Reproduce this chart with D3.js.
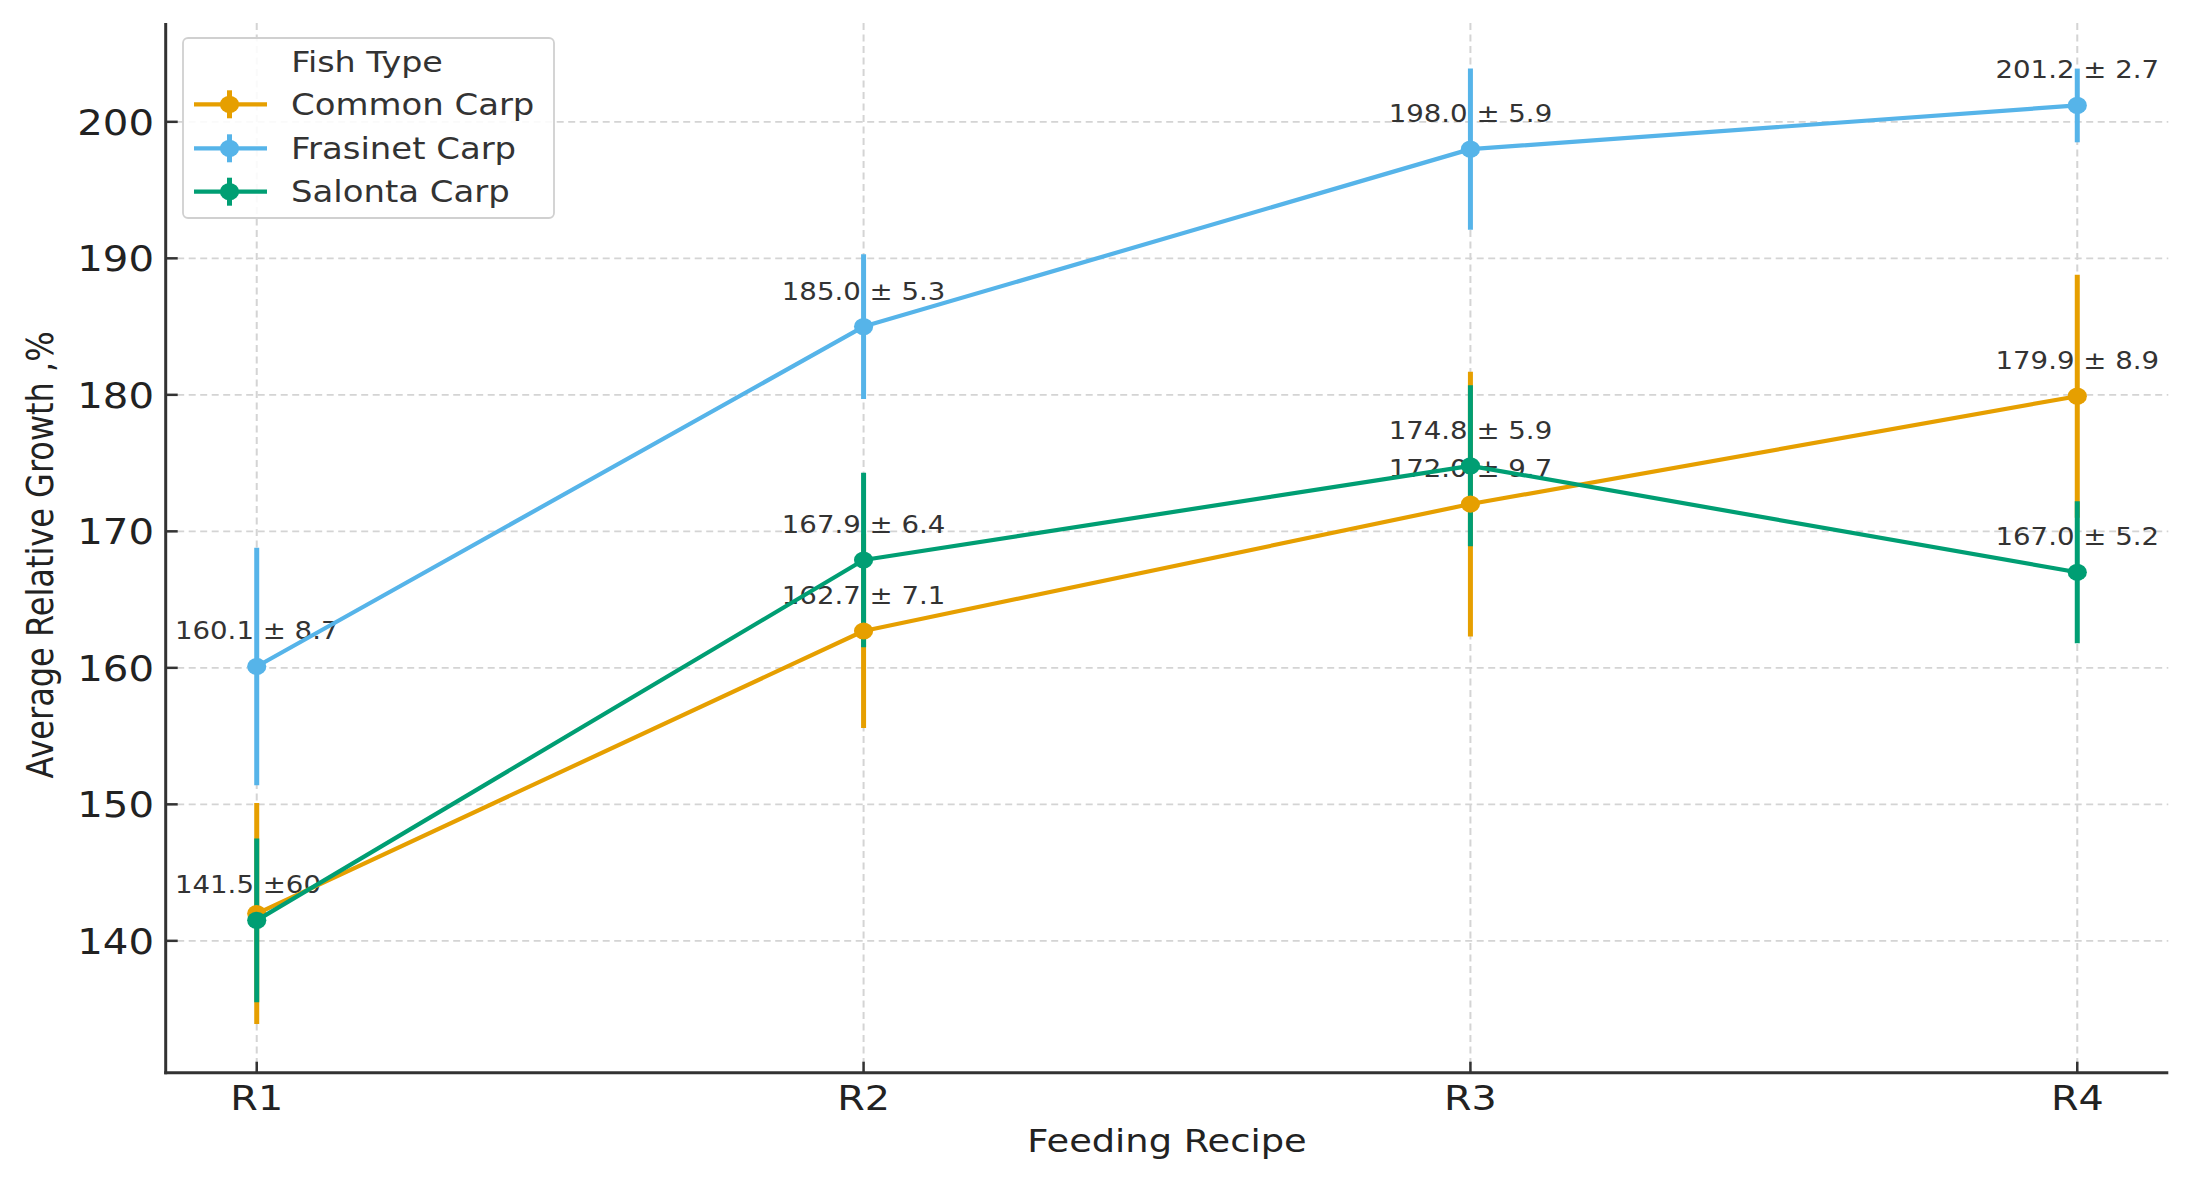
<!DOCTYPE html>
<html>
<head>
<meta charset="utf-8">
<script src="https://cdn.jsdelivr.net/npm/d3@7"></script>
<style>
  html, body { margin: 0; padding: 0; background: #ffffff; }
  svg { display: block; }
  text { font-family: "DejaVu Sans", sans-serif; }
</style>
</head>
<body>
<svg id="chart" width="2196" height="1179"></svg>
<script>
// ---------------- data ----------------
const recipes = ["R1", "R2", "R3", "R4"];
const seriesNames = ["Common Carp", "Frasinet Carp", "Salonta Carp"];
const seriesColors = ["#E69F00", "#56B4E9", "#009E73"];

const commonMean   = [142.0, 162.7, 172.0, 179.9];
const commonErr    = [8.1, 7.1, 9.7, 8.9];
const commonLabels = ["", "162.7 ± 7.1", "172.0 ± 9.7", "179.9 ± 8.9"];

const frasinetMean   = [160.1, 185.0, 198.0, 201.2];
const frasinetErr    = [8.7, 5.3, 5.9, 2.7];
const frasinetLabels = ["160.1 ± 8.7", "185.0 ± 5.3", "198.0 ± 5.9", "201.2 ± 2.7"];

const salontaMean   = [141.5, 167.9, 174.8, 167.0];
const salontaErr    = [6.0, 6.4, 5.9, 5.2];
const salontaLabels = ["141.5 ±60", "167.9 ± 6.4", "174.8 ± 5.9", "167.0 ± 5.2"];

const yTickValues = [140, 150, 160, 170, 180, 190, 200];
const xAxisTitle = "Feeding Recipe";
const yAxisTitle = "Average Relative Growth ,%";
const legendTitle = "Fish Type";

// ---------------- build series ----------------
const series = [
  { name: seriesNames[0], color: seriesColors[0], mean: commonMean, err: commonErr, labels: commonLabels },
  { name: seriesNames[1], color: seriesColors[1], mean: frasinetMean, err: frasinetErr, labels: frasinetLabels },
  { name: seriesNames[2], color: seriesColors[2], mean: salontaMean, err: salontaErr, labels: salontaLabels }
];
series.forEach(s => {
  s.points = recipes.map((r, i) => ({ r, v: s.mean[i], e: s.err[i], label: s.labels[i] }));
});

// ---------------- layout ----------------
const SX = 1.15; // horizontal stretch of the reference text
const plot = { left: 165.7, right: 2168.3, top: 23, bottom: 1072.7 };

const x = d3.scalePoint().domain(recipes).range([plot.left, plot.right]).padding(0.15);
const y = d3.scaleLinear().domain([130.34, 207.24]).range([plot.bottom, plot.top]);

const svg = d3.select("#chart");
svg.append("rect").attr("width", 2196).attr("height", 1179).attr("fill", "#ffffff");

function txt(g, px, py, s, size, anchor, fill, rot) {
  return g.append("text")
    .attr("transform", `translate(${px},${py}) scale(${SX},1)` + (rot ? ` rotate(${rot})` : ""))
    .attr("text-anchor", anchor)
    .style("font-size", size + "px")
    .attr("fill", fill)
    .text(s);
}

// ---------------- grid ----------------
const grid = svg.append("g");
grid.selectAll("line.h").data(yTickValues).join("line")
  .attr("x1", plot.left).attr("x2", plot.right)
  .attr("y1", d => y(d)).attr("y2", d => y(d))
  .attr("stroke", "#d4d4d4").attr("stroke-width", 1.8)
  .attr("stroke-dasharray", "7,4.5");
grid.selectAll("line.v").data(recipes).join("line")
  .attr("x1", d => x(d)).attr("x2", d => x(d))
  .attr("y1", plot.top).attr("y2", plot.bottom)
  .attr("stroke", "#d4d4d4").attr("stroke-width", 2)
  .attr("stroke-dasharray", "7,4.5");

// ---------------- value labels (under the lines) ----------------
// Each label starts where the nominal "mean ± err" string would start if centred on the point.
const labelsG = svg.append("g");
const probe = svg.append("text").style("font-size", "24px").attr("visibility", "hidden");
series.forEach(s => {
  s.points.forEach(p => {
    if (!p.label) return;
    probe.text(`${p.v.toFixed(1)} ± ${p.e.toFixed(1)}`);
    const w = probe.node().getComputedTextLength() * SX;
    txt(labelsG, x(p.r) - w / 2, y(p.v) - 27, p.label, 24, "start", "#333333");
  });
});
probe.remove();

// ---------------- error bars ----------------
const errG = svg.append("g");
series.forEach(s => {
  errG.selectAll(null).data(s.points).join("line")
    .attr("x1", d => x(d.r)).attr("x2", d => x(d.r))
    .attr("y1", d => y(d.v - d.e)).attr("y2", d => y(d.v + d.e))
    .attr("stroke", s.color).attr("stroke-width", 5);
});

// ---------------- lines & markers ----------------
const lineGen = d3.line().x(d => x(d.r)).y(d => y(d.v));
series.forEach(s => {
  const g = svg.append("g");
  g.append("path").datum(s.points)
    .attr("d", lineGen).attr("fill", "none")
    .attr("stroke", s.color).attr("stroke-width", 4.2)
    .attr("stroke-linejoin", "round");
  g.selectAll("ellipse").data(s.points).join("ellipse")
    .attr("cx", d => x(d.r)).attr("cy", d => y(d.v))
    .attr("rx", 9.6).attr("ry", 8.6)
    .attr("fill", s.color);
});

// ---------------- axes (spines + ticks) ----------------
const axG = svg.append("g");
axG.append("line").attr("x1", plot.left).attr("x2", plot.left)
  .attr("y1", plot.top).attr("y2", plot.bottom + 1.5)
  .attr("stroke", "#333333").attr("stroke-width", 3);
axG.append("line").attr("x1", plot.left - 1.5).attr("x2", plot.right)
  .attr("y1", plot.bottom).attr("y2", plot.bottom)
  .attr("stroke", "#333333").attr("stroke-width", 3);

yTickValues.forEach(v => {
  axG.append("line").attr("x1", plot.left).attr("x2", plot.left + 12)
    .attr("y1", y(v)).attr("y2", y(v))
    .attr("stroke", "#333333").attr("stroke-width", 2.5);
  txt(axG, 154, y(v) + 12.8, String(v), 35, "end", "#222222");
});
recipes.forEach(r => {
  axG.append("line").attr("x1", x(r)).attr("x2", x(r))
    .attr("y1", plot.bottom).attr("y2", plot.bottom - 11)
    .attr("stroke", "#333333").attr("stroke-width", 2.5);
  txt(axG, x(r), 1110, r, 34.5, "middle", "#222222");
});

txt(axG, (plot.left + plot.right) / 2, 1152, xAxisTitle, 32, "middle", "#222222");
txt(axG, 53, 555, yAxisTitle, 32, "middle", "#222222", -90);

// ---------------- legend ----------------
const lg = svg.append("g");
lg.append("rect").attr("x", 183).attr("y", 38).attr("width", 371).attr("height", 180)
  .attr("rx", 5).attr("fill", "#ffffff").attr("fill-opacity", 0.88)
  .attr("stroke", "#d0d0d0").attr("stroke-width", 1.8);
txt(lg, 367, 71.7, legendTitle, 29, "middle", "#333333");
const rowY = [104.3, 148.3, 191.7];
series.forEach((s, i) => {
  const ry = rowY[i];
  lg.append("line").attr("x1", 194).attr("x2", 267).attr("y1", ry).attr("y2", ry)
    .attr("stroke", s.color).attr("stroke-width", 4.2);
  lg.append("line").attr("x1", 229.5).attr("x2", 229.5).attr("y1", ry - 14).attr("y2", ry + 14)
    .attr("stroke", s.color).attr("stroke-width", 5);
  lg.append("ellipse").attr("cx", 229.5).attr("cy", ry).attr("rx", 9.6).attr("ry", 8.6)
    .attr("fill", s.color);
  txt(lg, 291, ry + 10.5, s.name, 29.5, "start", "#333333");
});
</script>
</body>
</html>
